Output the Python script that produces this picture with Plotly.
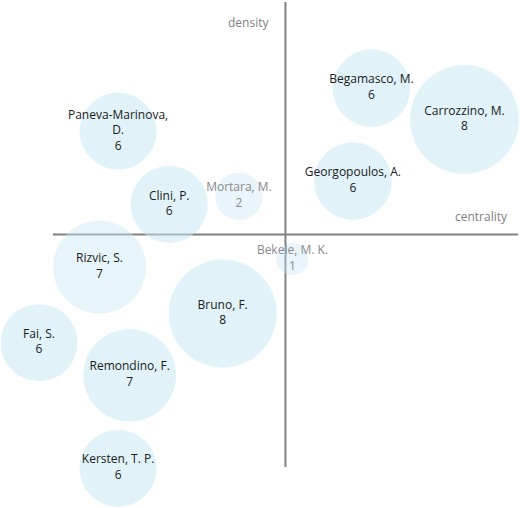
import plotly.graph_objects as go

# Cluster map: each author cluster placed by centrality (x) and density (y).
authors = [
    "Paneva-Marinova,<br>D.", "Clini, P.", "Mortara, M.", "Begamasco, M.",
    "Carrozzino, M.", "Georgopoulos, A.", "Rizvic, S.", "Bruno, F.",
    "Fai, S.", "Remondino, F.", "Kersten, T. P.", "Bekele, M. K.",
]
counts = [6, 6, 2, 6, 8, 6, 7, 8, 6, 7, 6, 1]
centrality = [-0.72, -0.50, -0.20, 0.37, 0.77, 0.29, -0.80, -0.27, -1.06, -0.67, -0.72, 0.03]
density = [0.445, 0.13, 0.165, 0.63, 0.495, 0.23, -0.14, -0.34, -0.465, -0.605, -1.005, -0.105]
weight = [5.8, 5.8, 2.2, 5.9, 11.6, 5.9, 8.4, 11.4, 5.8, 8.4, 5.8, 1.0]

labels = [f"{a}<br>{c}" for a, c in zip(authors, counts)]
text_colors = ["#8a8a8a" if c < 3 else "#1a1a1a" for c in counts]
opacities = [0.4 if c < 3 else (0.45 if a.startswith("Rizvic") else 0.55)
             for a, c in zip(authors, counts)]

fig = go.Figure(
    go.Scatter(
        x=centrality,
        y=density,
        mode="markers+text",
        text=labels,
        textposition="middle center",
        textfont=dict(family="Open Sans", size=12, color=text_colors),
        marker=dict(
            size=weight,
            sizemode="area",
            sizeref=1 / 512,
            color="rgb(201,231,244)",
            opacity=opacities,
            line=dict(width=0),
        ),
        cliponaxis=False,
        hoverinfo="text",
        showlegend=False,
    )
)

# quadrant axes: centrality and density both span -1..1
axis_line = dict(color="#808080", width=2)
fig.add_shape(type="line", x0=-1, x1=1, y0=0, y1=0, line=axis_line, layer="below")
fig.add_shape(type="line", x0=0, x1=0, y0=-1, y1=1, line=axis_line, layer="below")

axis = dict(
    showgrid=False,
    showticklabels=False,
    showline=False,
    zeroline=False,
    fixedrange=True,
)

fig.update_layout(
    width=520,
    height=508,
    margin=dict(l=0, r=0, t=0, b=0),
    plot_bgcolor="white",
    paper_bgcolor="white",
    xaxis=dict(axis, range=[-1.228, 1.009]),
    yaxis=dict(axis, range=[-1.176, 1.009]),
    font=dict(family="Open Sans", size=12),
    annotations=[
        dict(text="density", x=0, xref="x", xanchor="right", xshift=-14,
             y=1, yref="y", yanchor="top", yshift=-10,
             showarrow=False, font=dict(color="#7f7f7f", size=12)),
        dict(text="centrality", x=1, xref="x", xanchor="right", xshift=-8,
             y=0, yref="y", yanchor="bottom", yshift=8,
             showarrow=False, font=dict(color="#7f7f7f", size=12)),
    ],
)

fig.write_html(
    "out.html",
    config={"displayModeBar": False},
    post_script="document.body.style.margin='0';",
)
